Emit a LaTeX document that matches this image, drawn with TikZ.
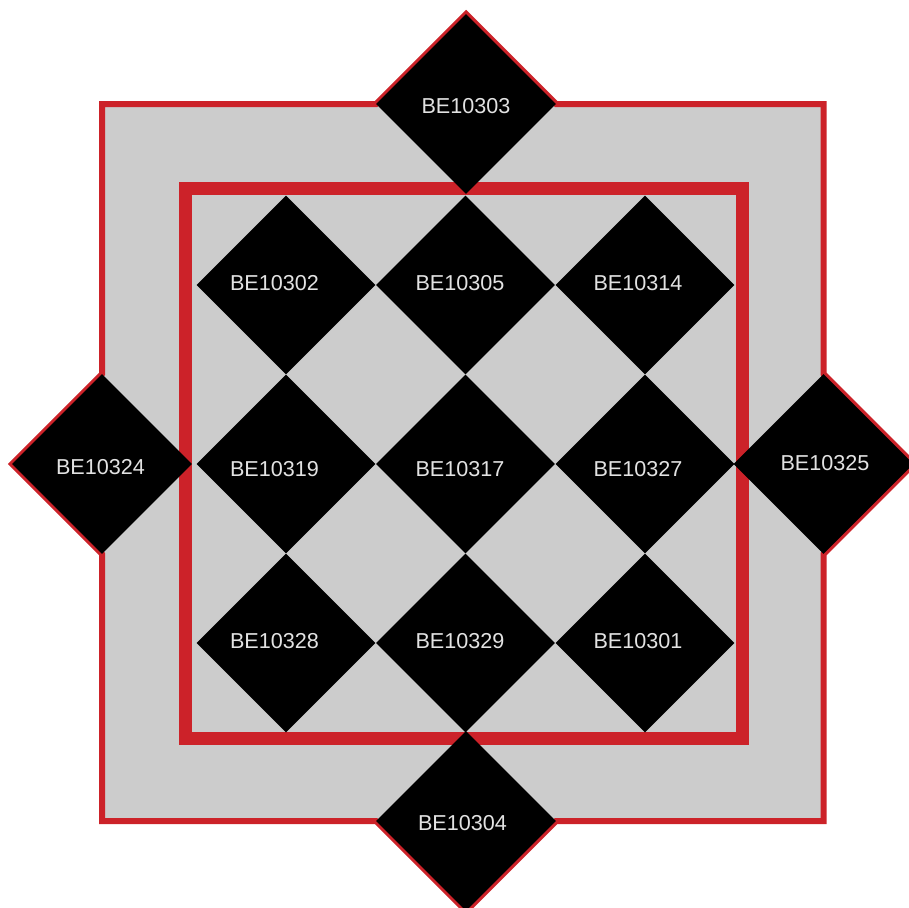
\documentclass[tikz,border=0pt]{standalone}
\usepackage{fontspec}
\setmainfont{Liberation Sans}
\usetikzlibrary{shapes.geometric}
\definecolor{bgray}{RGB}{204,204,204}
\definecolor{fred}{RGB}{204,34,41}
\definecolor{tgray}{RGB}{226,226,226}
\tikzset{
  dia/.style={shape=diamond, fill=black, draw=none, inner sep=0pt, minimum width=179pt, minimum height=179pt},
  odia/.style={shape=diamond, fill=black, draw=none, inner sep=0pt, minimum width=180pt, minimum height=180pt},
  lbl/.style={text=tgray, inner sep=0pt, font=\fontsize{21.6}{25}\selectfont}
}
\begin{document}
\begin{tikzpicture}[x=1pt,y=-1pt]
\useasboundingbox (0,0) rectangle (909,907);
% outer frame with diamond bumps
\draw[fill=bgray, draw=fred, line width=6pt, line join=miter]
  (102,104) -- (376,104) -- (466,14) -- (556,104) -- (823.5,104)
  -- (823.5,374) -- (913.5,464) -- (823.5,554) -- (823.5,821)
  -- (556,821) -- (466,911) -- (376,821) -- (102,821)
  -- (102,554) -- (12,464) -- (102,374) -- cycle;
% inner square
\draw[draw=fred, line width=13pt] (185.5,188.5) rectangle (742.5,738.5);
% outer diamonds
\node[odia] (d303) at (466,104) {};
\node[odia] (d324) at (102,464) {};
\node[odia] (d325) at (823.5,464) {};
\node[odia] (d304) at (466,821) {};
% grid diamonds
\node[dia] (d302) at (286,285) {};
\node[dia] (d305) at (465.5,285) {};
\node[dia] (d314) at (645,285) {};
\node[dia] (d319) at (286,464) {};
\node[dia] (d317) at (465.5,464) {};
\node[dia] (d327) at (645,464) {};
\node[dia] (d328) at (286,643) {};
\node[dia] (d329) at (465.5,643) {};
\node[dia] (d301) at (645,643) {};
% labels
\node[lbl] (t303) at (466,106.5) {BE10303};
\node[lbl] (t324) at (100.5,467) {BE10324};
\node[lbl] (t325) at (825,463.5) {BE10325};
\node[lbl] (t304) at (462.5,823.5) {BE10304};
\node[lbl] (t302) at (274.5,283.5) {BE10302};
\node[lbl] (t305) at (460,283.5) {BE10305};
\node[lbl] (t314) at (638,283.5) {BE10314};
\node[lbl] (t319) at (274.5,469.5) {BE10319};
\node[lbl] (t317) at (460,469.5) {BE10317};
\node[lbl] (t327) at (638,469.5) {BE10327};
\node[lbl] (t328) at (274.5,641) {BE10328};
\node[lbl] (t329) at (460,641) {BE10329};
\node[lbl] (t301) at (638,641) {BE10301};
\end{tikzpicture}
\end{document}
